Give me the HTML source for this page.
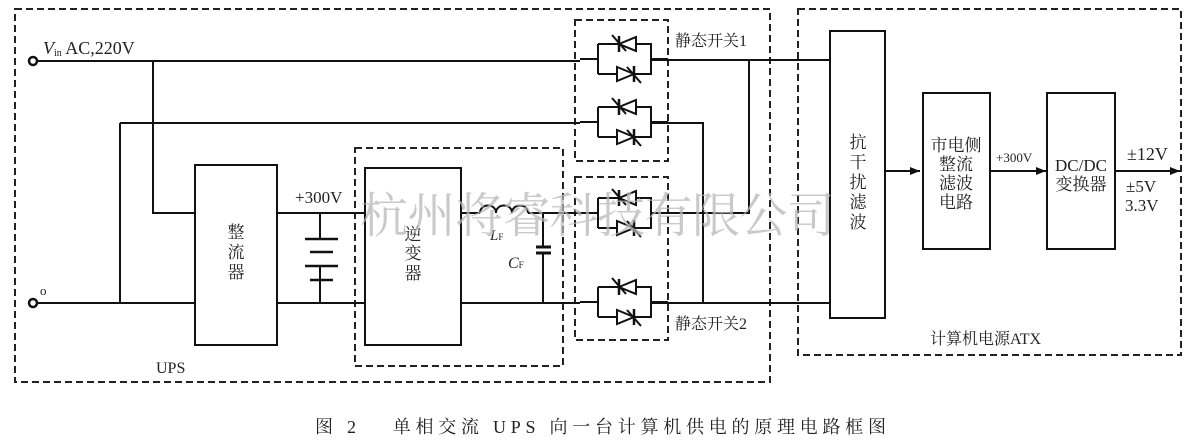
<!DOCTYPE html>
<html><head><meta charset="utf-8"><style>
html,body{margin:0;padding:0;background:#fff;}
svg{display:block;}
text{font-family:"Liberation Serif","Noto Serif CJK SC",serif;fill:#222;}
</style></head><body>
<svg width="1200" height="441" viewBox="0 0 1200 441" xmlns="http://www.w3.org/2000/svg">
<defs>
<g id="scr">
  <path d="M-18 0H0M0 -15V15M0 -15H53V15H0M53 0H70" fill="none" stroke="#111" stroke-width="2"/>
  <polygon points="21,-15 38,-22 38,-8" fill="#fff" stroke="#111" stroke-width="2"/>
  <line x1="21" y1="-23" x2="21" y2="-7" stroke="#111" stroke-width="2.5"/>
  <line x1="14" y1="-24" x2="28" y2="-8" stroke="#111" stroke-width="2"/>
  <polygon points="36,15 19,8 19,22" fill="#fff" stroke="#111" stroke-width="2"/>
  <line x1="36" y1="7" x2="36" y2="23" stroke="#111" stroke-width="2.5"/>
  <line x1="29" y1="8" x2="43" y2="24" stroke="#111" stroke-width="2"/>
</g>
<marker id="ar" markerWidth="10" markerHeight="8" refX="10" refY="4" orient="auto" markerUnits="userSpaceOnUse"><polygon points="0,0 10,4 0,8" fill="#111"/></marker>
</defs>
<g fill="none" stroke="#222" stroke-width="2" stroke-dasharray="7,4">
  <rect x="15" y="9" width="755" height="373"/>
  <rect x="355" y="148" width="208" height="218"/>
  <rect x="575" y="20" width="93" height="141"/>
  <rect x="575" y="177" width="93" height="163"/>
  <rect x="798" y="9" width="383" height="346"/>
</g>
<g fill="none" stroke="#111" stroke-width="2">
  <circle cx="33" cy="61" r="4" stroke-width="2.5"/>
  <circle cx="33" cy="303" r="4" stroke-width="2.5"/>
  <path d="M37 61H580M153 61V213H195M120 123H580M120 123V303M37 303H195"/>
  <rect x="195" y="165" width="82" height="180"/>
  <path d="M277 213H365M277 303H365M320 213V239M320 266V280M320 280V303"/>
  <path d="M305 239H338M310 252H333M305 266H338M310 280H333" stroke-width="2.5"/>
  <rect x="365" y="168" width="96" height="177"/>
  <path d="M461 213H480M528 213H580M461 303H580"/>
  <path d="M480 213c0-10 16-10 16 0c0-10 16-10 16 0c0-10 16-10 16 0"/>
  <path d="M543 213V247M543 253V303"/>
  <path d="M536 247H551M536 253H551" stroke-width="3"/>
  <path d="M651 60H830M749 60V213H651M651 123H703V303M651 303H830"/>
  <rect x="830" y="31" width="55" height="287"/>
  <rect x="923" y="93" width="67" height="156"/>
  <rect x="1047" y="93" width="68" height="156"/>
  <path d="M885 171H920" marker-end="url(#ar)"/>
  <path d="M990 171H1046" marker-end="url(#ar)"/>
  <path d="M1115 171H1180" marker-end="url(#ar)"/>
</g>
<use href="#scr" x="598" y="59"/>
<use href="#scr" x="598" y="122"/>
<use href="#scr" x="598" y="213"/>
<use href="#scr" x="598" y="302"/>
<text x="43" y="54" font-size="18"><tspan font-style="italic">V</tspan><tspan font-size="10" dy="2">in</tspan><tspan dy="-2"> AC,220V</tspan></text>
<text x="40" y="295" font-size="13">o</text>
<text x="295" y="203" font-size="17">+300V</text>
<text x="156" y="373" font-size="16">UPS</text>
<g font-size="17" text-anchor="middle">
  <text x="236" y="238">整</text><text x="236" y="258">流</text><text x="236" y="278">器</text>
  <text x="413" y="240">逆</text><text x="413" y="259">变</text><text x="413" y="279">器</text>
  <text x="858" y="148">抗</text><text x="858" y="168">干</text><text x="858" y="188">扰</text><text x="858" y="208">滤</text><text x="858" y="228">波</text>
  <text x="956" y="151">市电侧</text><text x="956" y="170">整流</text><text x="956" y="189">滤波</text><text x="956" y="208">电路</text>
  <text x="1081" y="171">DC/DC</text><text x="1081" y="190">变换器</text>
</g>
<text x="490" y="240" font-size="15" font-style="italic">L<tspan font-size="9" font-style="normal">F</tspan></text>
<text x="508" y="268" font-size="16" font-style="italic">C<tspan font-size="9" font-style="normal">F</tspan></text>
<text x="675" y="46" font-size="16">静态开关1</text>
<text x="675" y="329" font-size="16">静态开关2</text>
<text x="996" y="162" font-size="13">+300V</text>
<text x="1127" y="160" font-size="18">±12V</text>
<text x="1126" y="192" font-size="17">±5V</text>
<text x="1125" y="211" font-size="17">3.3V</text>
<text x="930" y="344" font-size="16">计算机电源ATX</text>
<text x="360" y="232" font-size="48" style="fill:#b8b8b8" opacity="0.75" textLength="475">杭州将睿科技有限公司</text>
<text x="315" y="433" font-size="18" textLength="571">图 2　 单相交流 UPS 向一台计算机供电的原理电路框图</text>
</svg>
</body></html>
